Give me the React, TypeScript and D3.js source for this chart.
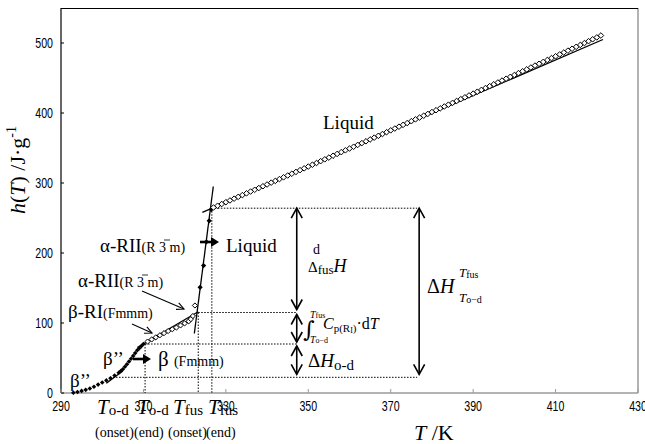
import * as d3 from "d3";

// enthalpy curve h(T), J/g
const liquidT = [
  327, 328, 329, 330, 331, 332, 333, 334, 335, 336, 337, 338, 339, 340, 341, 342, 343, 344, 345,
  346, 347, 348, 349, 350, 351, 352, 353, 354, 355, 356, 357, 358, 359, 360, 361, 362, 363, 364,
  365, 366, 367, 368, 369, 370, 371, 372, 373, 374, 375, 376, 377, 378, 379, 380, 381, 382, 383,
  384, 385, 386, 387, 388, 389, 390, 391, 392, 393, 394, 395, 396, 397, 398, 399, 400, 401, 402,
  403, 404, 405, 406, 407, 408, 409, 410, 411, 412, 413, 414, 415, 416, 417, 418, 419, 420, 421,
];
const liquidH = [
  265.0, 267.5, 270.0, 272.6, 275.1, 277.6, 280.2, 282.7, 285.2, 287.8, 290.3, 292.8, 295.4,
  297.9, 300.5, 303.0, 305.6, 308.1, 310.7, 313.2, 315.8, 318.4, 320.9, 323.5, 326.1, 328.6,
  331.2, 333.8, 336.3, 338.9, 341.5, 344.1, 346.7, 349.2, 351.8, 354.4, 357.0, 359.6, 362.2,
  364.8, 367.4, 370.0, 372.6, 375.2, 377.8, 380.4, 383.0, 385.6, 388.3, 390.9, 393.5, 396.1,
  398.7, 401.4, 404.0, 406.6, 409.3, 411.9, 414.5, 417.2, 419.8, 422.4, 425.1, 427.7, 430.4,
  433.0, 435.7, 438.3, 441.0, 443.6, 446.3, 449.0, 451.6, 454.3, 457.0, 459.6, 462.3, 465.0,
  467.7, 470.3, 473.0, 475.7, 478.4, 481.0, 483.7, 486.4, 489.1, 491.8, 494.5, 497.2, 499.9,
  502.6, 505.3, 508.0, 510.7,
];
const betaT = [
  293, 294, 295, 296, 297, 298, 299, 300, 301, 302, 303, 304, 304.5, 305, 305.5, 306, 306.5, 307,
  307.5, 308, 308.5, 309, 309.5, 310,
];
const betaH = [
  0.5, 1.5, 3, 4.5, 6.5, 9, 12, 15, 18, 21, 25, 29, 31.5, 34, 37.5, 41, 45, 49, 53, 57, 61, 64,
  67, 70,
];
const rIT = [311, 312, 313, 314, 315, 316, 317, 318, 319, 320, 321, 321.5, 322, 322.5];
const rIH = [73.5, 76.5, 79.5, 82.5, 85.5, 88.5, 91, 93.5, 96.5, 99.5, 102.5, 105.5, 110, 125];
const meltT = [323.75, 324.6, 325.3, 325.95, 326.45];
const meltH = [151, 182, 216, 246, 262];

// fitted straight lines [T1, h1, T2, h2]
const fitLines = [
  [324.3, 258, 421.5, 505],
  [322.35, 85, 326.95, 295],
  [308.5, 65, 323.3, 116],
  [301, 14, 305, 31.5],
];

// characteristic temperatures and enthalpy levels
const tOdOnset = 301.9;
const tOdEnd = 310.4;
const tFusOnset = 323.3;
const tFusEnd = 326.6;
const hOd = 22.4;
const hOdEnd = 70;
const hFusOnset = 115;
const hFusEnd = 264;
const tArrowA = 347.2;
const tArrowB = 376.9;

const xTicks = [290, 310, 330, 350, 370, 390, 410, 430];
const yTicks = [0, 100, 200, 300, 400, 500];

const serif = "'Liberation Serif', 'Times New Roman', serif";
const sans = "'Liberation Sans', Arial, sans-serif";

const diamond = (r: number) => `M0,${-r}L${r},0L0,${r}L${-r},0Z`;

function DoubleArrow({ x, y1, y2 }: { x: number; y1: number; y2: number }) {
  const hw = 5.5;
  const hl = 10;
  return (
    <g stroke="#000" strokeWidth={1.6} fill="none">
      <line x1={x} y1={y1} x2={x} y2={y2} />
      <polyline points={`${x - hw},${y1 + hl} ${x},${y1} ${x + hw},${y1 + hl}`} />
      <polyline points={`${x - hw},${y2 - hl} ${x},${y2} ${x + hw},${y2 - hl}`} />
    </g>
  );
}

function ThickArrow({ x1, x2, y }: { x1: number; x2: number; y: number }) {
  return (
    <g>
      <line x1={x1} y1={y} x2={x2 - 6} y2={y} stroke="#000" strokeWidth={2.6} />
      <path d={`M${x2 - 8},${y - 5}L${x2},${y}L${x2 - 8},${y + 5}Z`} fill="#000" />
    </g>
  );
}

function Pointer({ x1, y1, x2, y2 }: { x1: number; y1: number; x2: number; y2: number }) {
  const a = Math.atan2(y2 - y1, x2 - x1);
  const l = 8;
  const p1 = [x2 - l * Math.cos(a - 0.45), y2 - l * Math.sin(a - 0.45)];
  const p2 = [x2 - l * Math.cos(a + 0.45), y2 - l * Math.sin(a + 0.45)];
  return (
    <g stroke="#000" strokeWidth={1.1} fill="none">
      <line x1={x1} y1={y1} x2={x2} y2={y2} />
      <polyline points={`${p1[0]},${p1[1]} ${x2},${y2} ${p2[0]},${p2[1]}`} />
    </g>
  );
}

function TLabel({ x, y, sub }: { x: number; y: number; sub: string }) {
  return (
    <text x={x} y={y} fontFamily={serif}>
      <tspan fontStyle="italic" fontSize={21}>T</tspan>
      <tspan fontSize={15} dy={1}>{sub}</tspan>
    </text>
  );
}

function Phase({ x, y, main, group }: { x: number; y: number; main: string; group: string }) {
  return (
    <text x={x} y={y} fontFamily={serif} fontSize={19}>
      {main}
      <tspan fontSize={14}>{group}</tspan>
    </text>
  );
}

function Num({ x, y, anchor, children }: { x: number; y: number; anchor: string; children: any }) {
  return (
    <text
      transform={`translate(${x},${y}) scale(0.76,1)`}
      textAnchor={anchor}
      fontFamily={sans}
      fontSize={14}
    >
      {children}
    </text>
  );
}

export default function App() {
  const x = d3.scaleLinear().domain([290, 430]).range([61, 638]);
  const y = d3.scaleLinear().domain([0, 550]).range([393, 8]);

  const dotted = [
    [tFusEnd, hFusEnd, 376.4, hFusEnd],
    [tFusOnset, hFusOnset, 347.3, hFusOnset],
    [tOdEnd, hOdEnd, 347.3, hOdEnd],
    [tOdOnset, hOd, 376.4, hOd],
    [tOdEnd, hOdEnd, tOdEnd, 0],
    [tFusOnset, hFusOnset, tFusOnset, 0],
    [tFusEnd, hFusEnd, tFusEnd, 0],
  ];

  const xa = x(tArrowA);
  const xb = x(tArrowB);

  return (
    <svg
      width={645}
      height={444}
      style={{ position: "absolute", left: 0, top: 0, background: "#fff" }}
    >
      {/* frame */}
      <line x1={61} y1={393} x2={638} y2={393} stroke="#9a9a9a" strokeWidth={1.5} />
      <line x1={638} y1={8} x2={638} y2={393} stroke="#9a9a9a" strokeWidth={1.5} />
      <line x1={61} y1={8.5} x2={638} y2={8.5} stroke="#000" strokeWidth={1.2} />
      <line x1={61} y1={8} x2={61} y2={393} stroke="#000" strokeWidth={1.2} />

      {yTicks.map((t) => (
        <g key={t}>
          <line x1={61} x2={64} y1={y(t)} y2={y(t)} stroke="#000" />
          <Num x={53} y={y(t) + 5} anchor="end">{t}</Num>
        </g>
      ))}
      {xTicks.map((t) => (
        <g key={t}>
          <line x1={x(t)} x2={x(t)} y1={389} y2={393} stroke="#9a9a9a" />
          <Num x={x(t)} y={411} anchor="middle">{t}</Num>
        </g>
      ))}

      {/* dotted construction lines */}
      {dotted.map((d, i) => (
        <line
          key={i}
          x1={x(d[0])}
          y1={y(d[1])}
          x2={x(d[2])}
          y2={y(d[3])}
          stroke="#000"
          strokeWidth={1}
          strokeDasharray="1.5,1.5"
        />
      ))}

      {/* fitted lines */}
      {fitLines.map((d, i) => (
        <line key={i} x1={x(d[0])} y1={y(d[1])} x2={x(d[2])} y2={y(d[3])} stroke="#000" strokeWidth={1.3} />
      ))}

      {/* markers */}
      {betaT.map((t, i) => (
        <path key={"b" + i} d={diamond(2.3)} transform={`translate(${x(t)},${y(betaH[i])})`} fill="#000" />
      ))}
      {rIT.map((t, i) => (
        <path key={"r" + i} d={diamond(2.6)} transform={`translate(${x(t)},${y(rIH[i])})`} fill="#fff" stroke="#000" strokeWidth={1} />
      ))}
      {meltT.map((t, i) => (
        <path key={"m" + i} d={diamond(2.6)} transform={`translate(${x(t)},${y(meltH[i])})`} fill="#000" />
      ))}
      {liquidT.map((t, i) => (
        <path key={"l" + i} d={diamond(2.8)} transform={`translate(${x(t)},${y(liquidH[i])})`} fill="#fff" stroke="#000" strokeWidth={1} />
      ))}

      {/* enthalpy arrows */}
      <DoubleArrow x={xa} y1={y(hFusEnd)} y2={y(hFusOnset) - 3} />
      <DoubleArrow x={xa} y1={y(hFusOnset) + 2} y2={y(hOdEnd) - 2} />
      <DoubleArrow x={xa} y1={y(hOdEnd) + 2} y2={y(hOd) - 3} />
      <DoubleArrow x={xb} y1={y(hFusEnd)} y2={y(hOd) - 3} />

      {/* Δ_fus^d H */}
      <text x={308} y={272} fontFamily={serif} fontSize={15}>
        Δ<tspan fontSize={13} dy={2}>fus</tspan>
        <tspan fontSize={18} fontStyle="italic" dy={-2}>H</tspan>
      </text>
      <text x={313} y={254} fontFamily={serif} fontSize={14}>d</text>

      {/* integral label */}
      <text x={303} y={337} fontFamily="'DejaVu Serif', serif" fontSize={22}>∫</text>
      <text x={310} y={318} fontFamily={serif} fontSize={10}>
        <tspan fontStyle="italic">T</tspan>
        <tspan fontSize={8}>fus</tspan>
      </text>
      <text x={310} y={343} fontFamily={serif} fontSize={10}>
        <tspan fontStyle="italic">T</tspan>
        <tspan fontSize={8}>o−d</tspan>
      </text>
      <text x={323} y={329} fontFamily={serif} fontSize={16}>
        <tspan fontStyle="italic">C</tspan>
        <tspan fontSize={11} dy={3}>p(R</tspan>
        <tspan fontSize={8} dy={1}>I</tspan>
        <tspan fontSize={11} dy={-1}>)</tspan>
        <tspan dy={-3}>·d</tspan>
        <tspan fontStyle="italic">T</tspan>
      </text>

      {/* ΔH_o-d */}
      <text x={308} y={367} fontFamily={serif} fontSize={19}>
        Δ<tspan fontStyle="italic">H</tspan>
        <tspan fontSize={15} dy={3}>o-d</tspan>
      </text>

      {/* total ΔH */}
      <text x={427} y={293} fontFamily={serif} fontSize={20}>
        Δ<tspan fontStyle="italic">H</tspan>
      </text>
      <text x={459} y={277} fontFamily={serif} fontSize={13}>
        <tspan fontStyle="italic">T</tspan>
        <tspan fontSize={10} dy={1}>fus</tspan>
      </text>
      <text x={459} y={302} fontFamily={serif} fontSize={13}>
        <tspan fontStyle="italic">T</tspan>
        <tspan fontSize={10} dy={1}>o−d</tspan>
      </text>

      {/* phase labels */}
      <text x={323} y={129} fontFamily={serif} fontSize={19}>Liquid</text>

      <Phase x={100} y={252} main="α-RII" group="(R 3 m)" />
      <line x1={164} x2={170} y1={240} y2={240} stroke="#000" strokeWidth={0.8} />
      <ThickArrow x1={200} x2={219} y={242} />
      <text x={226} y={252} fontFamily={serif} fontSize={19}>Liquid</text>

      <Phase x={78} y={287} main="α-RII" group="(R 3 m)" />
      <line x1={142} x2={148} y1={275} y2={275} stroke="#000" strokeWidth={0.8} />
      <Pointer x1={142} y1={291} x2={184} y2={309} />

      <Phase x={68} y={318} main="β-RI" group="(Fmmm)" />
      <Pointer x1={132} y1={324} x2={152} y2={333} />

      <text x={103} y={365} fontFamily={serif} fontSize={19}>β’’</text>
      <ThickArrow x1={133} x2={151} y={359} />
      <text x={158} y={366} fontFamily={serif} fontSize={21}>
        β <tspan fontSize={14}>(Fmmm)</tspan>
      </text>

      <text x={70} y={387} fontFamily={serif} fontSize={19}>β’’</text>

      {/* characteristic temperatures */}
      <TLabel x={97} y={414} sub="o-d" />
      <TLabel x={137} y={414} sub="o-d" />
      <TLabel x={173} y={414} sub="fus" />
      <TLabel x={208} y={414} sub="fus" />
      <text x={95} y={437} fontFamily={serif} fontSize={14}>(onset)</text>
      <text x={134} y={437} fontFamily={serif} fontSize={14}>(end)</text>
      <text x={168} y={437} fontFamily={serif} fontSize={14}>(onset)</text>
      <text x={206} y={437} fontFamily={serif} fontSize={14}>(end)</text>

      {/* axis titles */}
      <text x={414} y={440} fontFamily={serif} fontSize={22}>
        <tspan fontStyle="italic">T</tspan> /K
      </text>
      <text transform="translate(25,170) rotate(-90)" textAnchor="middle" fontFamily={serif} fontSize={22}>
        <tspan fontStyle="italic">h</tspan>(<tspan fontStyle="italic">T</tspan>) /J·g
        <tspan fontSize={14} dy={-9}>-1</tspan>
      </text>
    </svg>
  );
}
